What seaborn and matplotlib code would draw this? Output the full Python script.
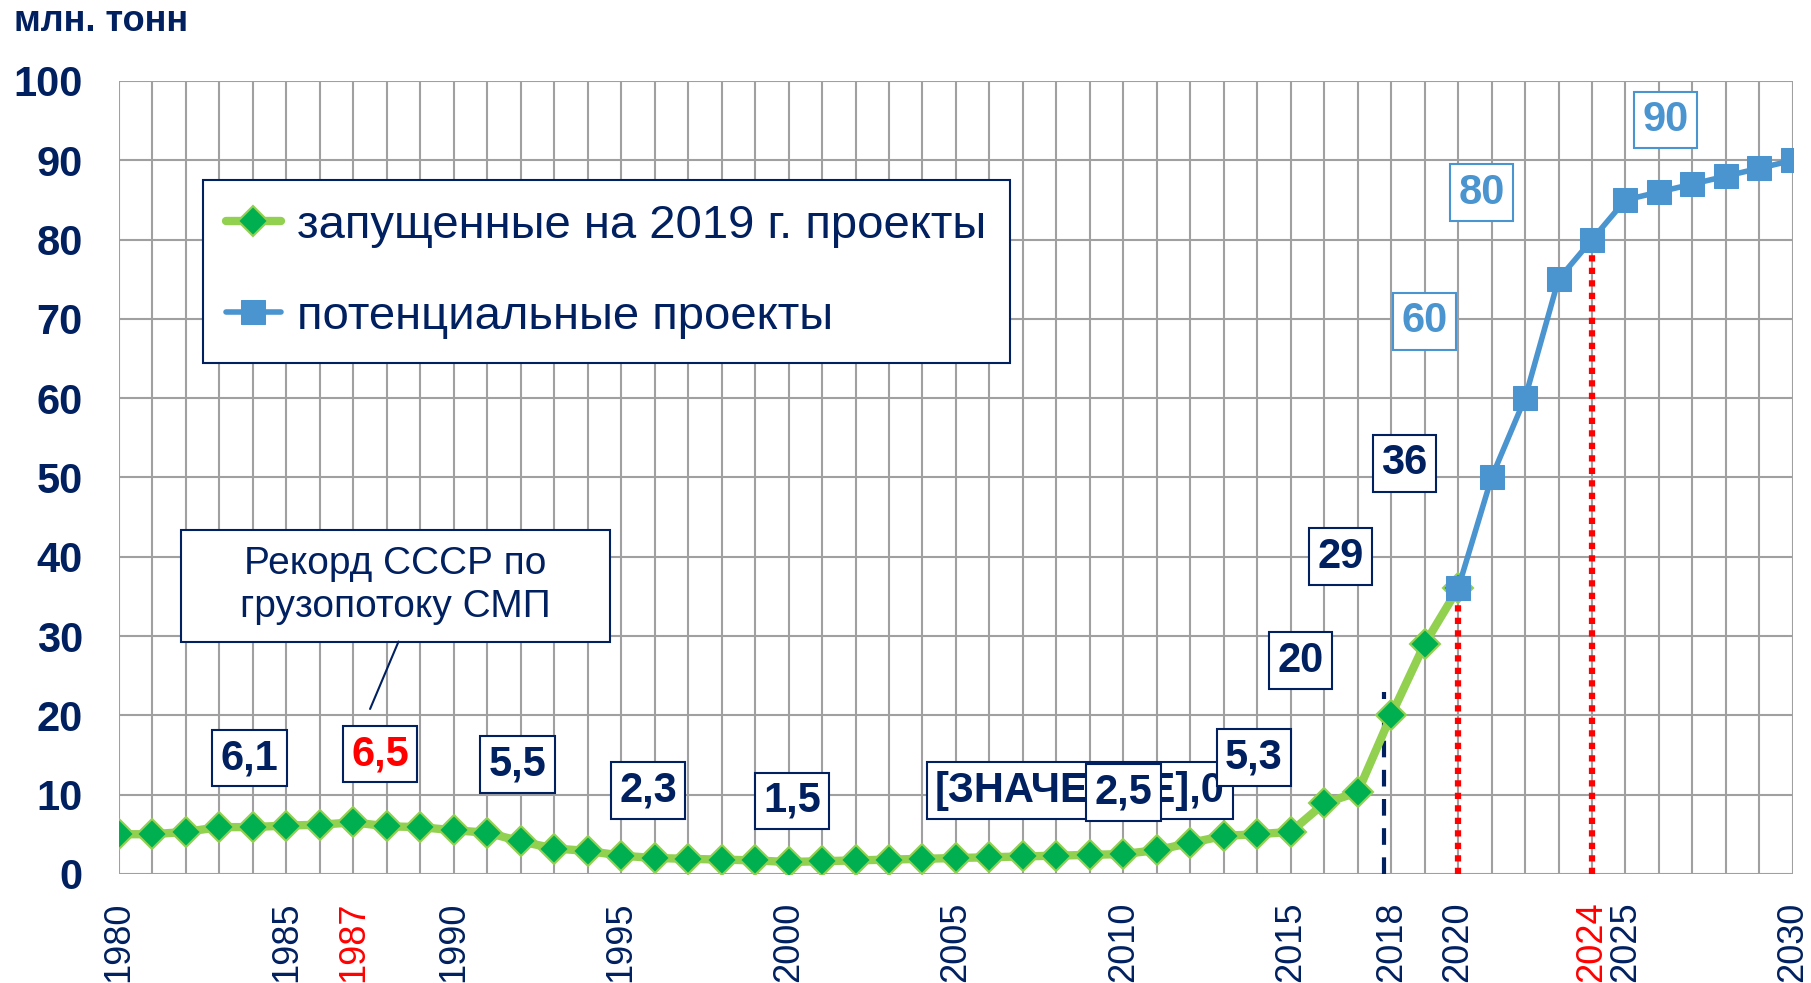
import numpy as np
import pandas as pd
import matplotlib
matplotlib.use("Agg")
import matplotlib.pyplot as plt
from matplotlib.patches import Rectangle
import seaborn as sns

sns.set_style("white")
plt.rcParams['font.family'] = ['Liberation Sans', 'DejaVu Sans']

navy = "#002060"
green_line = "#92D050"
green_mark = "#00B050"
blue = "#4A94D0"
red = "#FF0000"
grid_gray = "#A0A0A0"
narrow = ['Liberation Sans Narrow', 'Liberation Sans', 'DejaVu Sans']

# Data
years_launched = list(range(1980, 2021))
launched = [5.0, 5.0, 5.3, 5.9, 5.9, 6.1, 6.2, 6.5, 6.0, 5.9,
            5.5, 5.2, 4.1, 3.2, 2.9, 2.3, 2.0, 1.9, 1.8, 1.7,
            1.5, 1.6, 1.7, 1.8, 1.9, 2.0, 2.1, 2.2, 2.3, 2.4,
            2.5, 3.0, 3.9, 4.8, 5.0, 5.3, 8.9, 10.3, 20.0, 29.0,
            36.0]
years_potential = list(range(2020, 2031))
potential = [36, 50, 60, 75, 80, 85, 86, 87, 88, 89, 90]

label_years = [1980, 1985, 1987, 1990, 1995, 2000, 2005, 2010, 2015, 2018, 2020, 2024, 2025, 2030]
red_years = [1987, 2024]

# data labels: text, x, y, colour
dlabels = [
    ("6,1", 1983.9, 14.6, navy),
    ("6,5", 1987.8, 15.1, red),
    ("5,5", 1991.9, 13.8, navy),
    ("2,3", 1995.8, 10.5, navy),
    ("1,5", 2000.1, 9.2, navy),
    ("[ЗНАЧЕНИЕ],0", 2008.7, 10.5, navy),
    ("2,5", 2010.0, 10.3, navy),
    ("5,3", 2013.9, 14.7, navy),
    ("20", 2015.3, 26.9, navy),
    ("29", 2016.5, 40.0, navy),
    ("36", 2018.4, 51.8, navy),
    ("60", 2019.0, 69.7, blue),
    ("80", 2020.7, 85.9, blue),
    ("90", 2026.2, 95.1, blue),
]

df_l = pd.DataFrame({"year": years_launched, "value": launched})
df_p = pd.DataFrame({"year": years_potential, "value": potential})

fig, ax = plt.subplots(figsize=(18.11, 9.83), dpi=100)
fig.subplots_adjust(left=0.0657, right=0.990, top=0.9176, bottom=0.111)

# reference lines
ax.plot([2017.8, 2017.8], [0, 23], color=navy, lw=3, ls=(0, (4, 3)), zorder=2)
ax.plot([2020, 2020], [0, 36], color=red, lw=4.5, ls=(0, (1, 1)), zorder=2)
ax.plot([2024, 2024], [0, 80], color=red, lw=4.5, ls=(0, (1, 1)), zorder=2)

sns.lineplot(data=df_l, x="year", y="value", ax=ax, color=green_line, lw=6,
             marker="D", markersize=15, markerfacecolor=green_mark,
             markeredgecolor=green_line, markeredgewidth=1.5,
             label="запущенные на 2019 г. проекты", zorder=4)
sns.lineplot(data=df_p, x="year", y="value", ax=ax, color=blue, lw=4,
             marker="s", markersize=17, markerfacecolor=blue,
             markeredgecolor=blue, label="потенциальные проекты", zorder=5)

ax.set_xlim(1980, 2030)
ax.set_ylim(0, 100)
ax.set_xticks(years_launched + years_potential[1:])
ax.set_xticklabels([str(y) if y in label_years else "" for y in ax.get_xticks().astype(int)],
                   rotation=90, fontsize=26, color=navy)
for t in ax.get_xticklabels():
    if t.get_text() in [str(y) for y in red_years]:
        t.set_color(red)
ax.set_yticks(range(0, 101, 10))
ax.set_yticklabels([str(v) for v in range(0, 101, 10)], fontsize=30,
                   fontweight="bold", color=navy, family=narrow)
ax.tick_params(axis="x", length=12, width=1.5, color=grid_gray, pad=8, direction="out")
ax.tick_params(axis="y", length=12, width=1.5, color=grid_gray, pad=14, direction="out")
ax.grid(True, color=grid_gray, lw=1.5)
for s in ax.spines.values():
    s.set_visible(False)
ax.set_xlabel("")
ax.set_ylabel("")

for txt, x, y, c in dlabels:
    ec = blue if c == blue else navy
    ax.text(x, y, txt, ha="center", va="center", fontsize=30, fontweight="bold",
            color=c, family=narrow,
            bbox=dict(boxstyle="square,pad=0.2", fc="white", ec=ec, lw=1.5), zorder=6)

# callout: box, text and leader line
ax.add_patch(Rectangle((1981.86, 29.3), 12.8, 14.1, fc="white", ec=navy, lw=1.5, zorder=6))
ax.text(1988.25, 36.4, "Рекорд СССР по\nгрузопотоку СМП", ha="center", va="center",
        fontsize=28, color=navy, linespacing=1.25, zorder=7)
ax.plot([1988.35, 1987.5], [29.3, 20.8], color=navy, lw=1.5, zorder=6)

leg = ax.legend(loc="upper left", bbox_to_anchor=(0.050, 0.875), fontsize=34,
                frameon=True, fancybox=False, edgecolor=navy, framealpha=1,
                handlelength=1.15, handletextpad=0.35, labelspacing=1.0,
                borderpad=0.5, borderaxespad=0, labelcolor=navy)
leg.get_frame().set_linewidth(1.5)

fig.text(0.008, 0.978, "млн. тонн", fontsize=26, fontweight="bold", color=navy,
         ha="left", va="center")

fig.savefig("out.png", dpi=100)
